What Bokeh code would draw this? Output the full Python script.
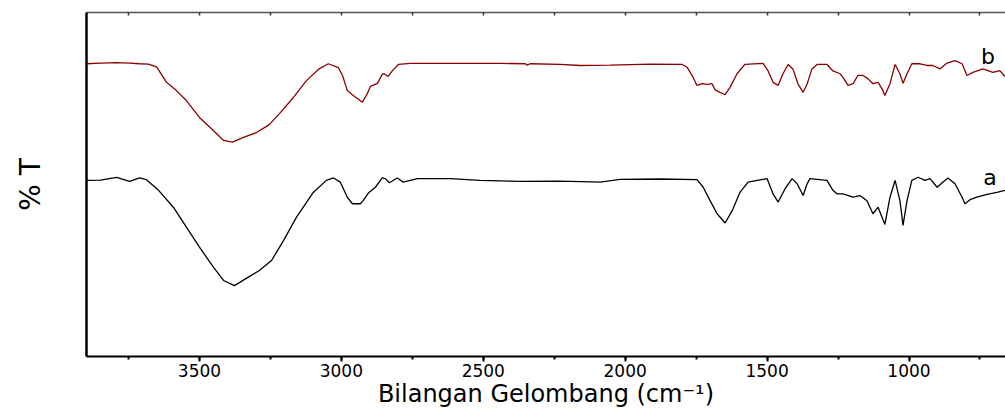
from bokeh.plotting import figure
from bokeh.models import Range1d, LinearAxis, SingleIntervalTicker, FixedTicker, Label
from bokeh.embed import file_html
from bokeh.resources import INLINE

# Wavenumber (cm^-1) and transmittance (%T, arbitrary offset)
wn_b = [3898, 3849, 3792, 3746, 3711, 3680, 3651, 3616, 3581, 3546, 3500, 3451, 3415, 3384,
        3345, 3299, 3254, 3218, 3169, 3123, 3077, 3046, 3011, 2996, 2979, 2958, 2926, 2908,
        2898, 2873, 2856, 2849, 2835, 2820, 2799, 2757, 2616, 2440, 2352, 2345, 2335, 2229,
        2159, 2053, 1912, 1799, 1782, 1761, 1747, 1729, 1711, 1694, 1683, 1666, 1648, 1630,
        1606, 1578, 1514, 1497, 1479, 1461, 1444, 1426, 1409, 1391, 1373, 1359, 1342, 1324,
        1289, 1268, 1243, 1233, 1215, 1197, 1180, 1162, 1144, 1127, 1109, 1095, 1085, 1067,
        1049, 1032, 1021, 1007, 990, 961, 937, 916, 891, 866, 838, 813, 796, 775, 740, 704,
        680, 662]
t_b = [85.1, 85.3, 85.4, 85.3, 85.1, 85.0, 84.2, 79.7, 77.3, 74.4, 69.5, 65.7, 62.8, 62.3,
       63.7, 65.1, 67.4, 70.6, 75.3, 80.2, 83.7, 85.1, 84.0, 81.7, 77.3, 75.9, 73.9, 76.5,
       78.5, 79.4, 82.0, 82.2, 81.4, 83.1, 84.9, 85.2, 85.2, 85.2, 85.1, 84.7, 85.1, 84.9,
       84.6, 84.7, 85.0, 84.9, 84.1, 81.2, 78.8, 79.3, 79.1, 79.3, 77.5, 76.8, 76.1, 78.3,
       82.2, 84.9, 85.2, 83.1, 79.7, 78.8, 82.2, 84.9, 83.6, 79.2, 76.8, 79.2, 83.6, 84.9,
       84.9, 83.0, 82.2, 81.2, 78.8, 79.3, 81.7, 81.7, 80.7, 79.3, 79.7, 77.8, 75.9, 79.3,
       84.9, 82.2, 79.4, 82.2, 85.1, 85.1, 84.6, 84.6, 83.6, 85.3, 86.0, 85.1, 81.7, 82.6,
       83.6, 82.6, 83.1, 81.4]

wn_a = [3898, 3849, 3792, 3746, 3711, 3687, 3644, 3592, 3546, 3500, 3451, 3415, 3377, 3335,
        3289, 3246, 3204, 3158, 3099, 3053, 3028, 3004, 2979, 2961, 2933, 2923, 2905, 2880,
        2856, 2845, 2831, 2803, 2782, 2732, 2616, 2511, 2370, 2229, 2088, 2018, 1877, 1747,
        1725, 1701, 1676, 1648, 1623, 1595, 1567, 1500, 1479, 1461, 1437, 1412, 1394, 1373,
        1359, 1349, 1289, 1268, 1254, 1233, 1197, 1173, 1148, 1127, 1109, 1085, 1067, 1049,
        1032, 1021, 1007, 990, 968, 944, 926, 901, 880, 863, 838, 813, 803, 785, 761, 725,
        690, 662]
t_a = [51.2, 51.3, 52.1, 50.9, 51.9, 51.4, 48.3, 43.4, 37.6, 31.8, 26.0, 22.1, 20.6, 22.7,
       25.0, 27.9, 33.7, 40.5, 47.7, 51.2, 51.9, 50.7, 46.3, 44.4, 44.4, 45.3, 47.5, 49.2,
       51.9, 51.7, 50.5, 51.9, 50.7, 51.7, 51.7, 51.2, 50.9, 51.0, 50.7, 51.5, 51.6, 51.4,
       49.2, 45.3, 41.5, 38.8, 42.4, 47.8, 50.7, 51.7, 47.3, 44.9, 48.7, 51.7, 50.2, 46.8,
       50.2, 51.7, 51.2, 48.3, 47.3, 47.3, 46.3, 46.8, 45.3, 41.5, 43.4, 38.4, 46.3, 51.2,
       45.3, 38.1, 45.3, 51.2, 52.1, 51.2, 51.7, 49.2, 50.7, 51.9, 50.2, 46.3, 44.4, 45.6,
       46.3, 47.1, 47.7, 48.3]

series_names = ["a", "b"]
label_pos_wn = [715, 722]
label_pos_t = [52.0, 87.2]

top_ticks = [3750, 3500, 3250, 3000, 2750, 2500, 2250, 2000, 1750, 1500, 1250, 1000, 750]

FONT = "DejaVu Sans"

p = figure(width=1005, height=411, output_backend="svg", toolbar_location=None,
           x_range=Range1d(3898, 660), y_range=Range1d(0, 100),
           x_axis_location=None, y_axis_location=None,
           min_border_left=86, min_border_right=0, min_border_top=12, min_border_bottom=55)
p.outline_line_color = None
p.grid.visible = False
p.background_fill_color = "white"
p.border_fill_color = "white"

# Bottom axis
xb = LinearAxis(ticker=SingleIntervalTicker(interval=500, num_minor_ticks=2))
xb.axis_line_width = 2
xb.axis_line_color = "black"
xb.major_tick_line_width = 2
xb.major_tick_line_color = "black"
xb.major_tick_in = 0
xb.major_tick_out = 5
xb.minor_tick_line_width = 2
xb.minor_tick_line_color = "black"
xb.minor_tick_in = 0
xb.minor_tick_out = 3
xb.major_label_text_font = FONT
xb.major_label_text_font_size = "17px"
xb.major_label_text_color = "black"
xb.major_label_standoff = 2
xb.axis_label = "Bilangan Gelombang (cm\u207b\u00b9)"
xb.axis_label_text_font = FONT
xb.axis_label_text_font_size = "24px"
xb.axis_label_text_font_style = "normal"
xb.axis_label_text_color = "black"
xb.axis_label_standoff = 0
p.add_layout(xb, "below")

# Top axis: frame line with inward ticks only (no labels)
xt = LinearAxis(ticker=FixedTicker(ticks=[], minor_ticks=top_ticks))
xt.axis_line_width = 1.5
xt.axis_line_color = "#555555"
xt.major_tick_line_color = None
xt.minor_tick_line_color = "#333333"
xt.minor_tick_line_width = 1.5
xt.minor_tick_in = 3
xt.minor_tick_out = 0
p.add_layout(xt, "above")

# Left axis: line only
yl = LinearAxis(ticker=FixedTicker(ticks=[]))
yl.axis_line_width = 2.5
yl.axis_line_color = "black"
yl.major_tick_line_color = None
yl.minor_tick_line_color = None
yl.axis_label = "% T"
yl.axis_label_text_font = FONT
yl.axis_label_text_font_size = "28px"
yl.axis_label_text_font_style = "normal"
yl.axis_label_text_color = "black"
yl.axis_label_standoff = 40
p.add_layout(yl, "left")

p.line(wn_b, t_b, line_color="#8b0000", line_width=1.3)
p.line(wn_a, t_a, line_color="black", line_width=1.3)

for name, lx, ly in zip(series_names, label_pos_wn, label_pos_t):
    p.add_layout(Label(x=lx, y=ly, text=name, text_font=FONT, text_font_size="22px",
                       text_color="black", text_align="center", text_baseline="middle"))

open("out.html", "w").write(file_html(p, INLINE))
